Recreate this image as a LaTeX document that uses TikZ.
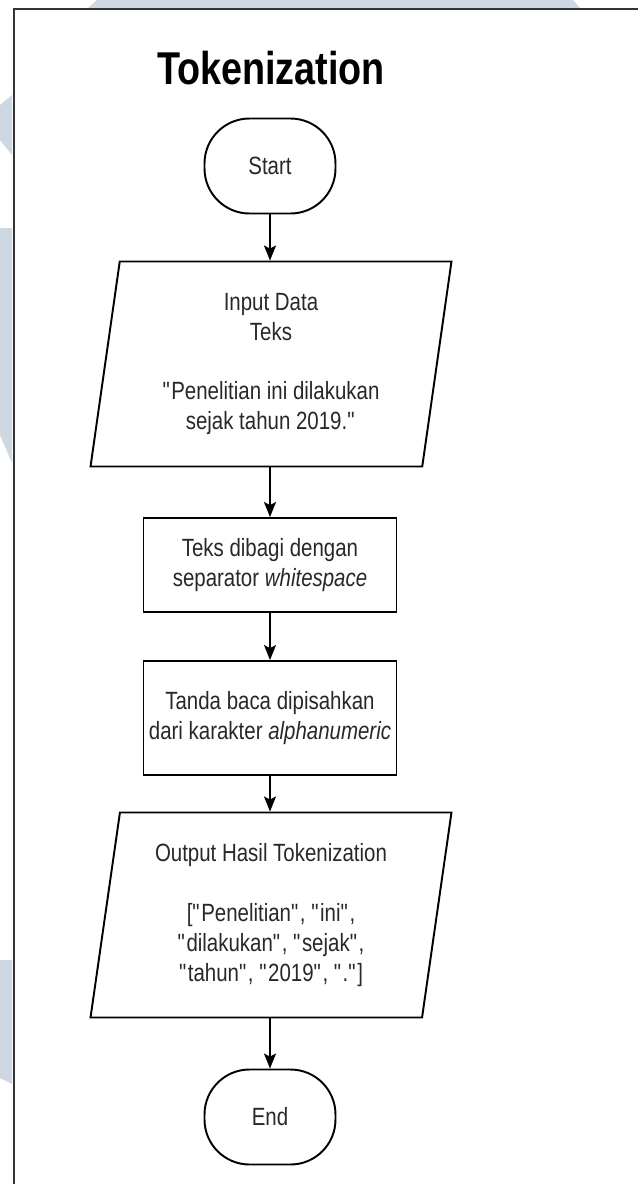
\documentclass[tikz,border=0pt]{standalone}
\usepackage{fontspec}
\setmainfont{Liberation Sans}[FakeStretch=0.82]
\usetikzlibrary{shapes.geometric,arrows.meta}
\definecolor{wmblue}{RGB}{205,216,227}
\definecolor{txtgray}{RGB}{40,40,40}
\newcommand{\dq}{\textquotedbl}

\begin{document}
\begin{tikzpicture}[x=0.02cm,y=-0.02cm,
  every node/.style={font=\fontsize{14.2pt}{17.07pt}\selectfont, text=txtgray, align=center},
  terminal/.style={draw, line width=1.1pt, rounded corners=0.9cm,
    minimum width=2.62cm, minimum height=1.9cm, inner sep=0pt},
  iobox/.style={draw, line width=1.1pt, trapezium, trapezium left angle=78.4,
    trapezium right angle=101.6, trapezium stretches body,
    minimum width=7.22cm, minimum height=4.1cm, inner sep=0pt},
  procbox/.style={draw, line width=1.1pt, minimum width=5.06cm, inner sep=0pt},
  flow/.style={line width=0.85pt, -{Stealth[length=0.3cm,width=0.24cm,inset=0.06cm]}}]
\useasboundingbox (0,0) rectangle (637,1184);

% watermark fragments
\fill[wmblue] (97,0) -- (573,0) -- (580,8) -- (88,8) -- cycle;
\fill[wmblue] (0,105) -- (12,95) -- (12,155) -- (0,140) -- cycle;
\fill[wmblue] (0,228) -- (12,228) -- (12,463) -- (0,435) -- cycle;
\fill[wmblue] (0,960) -- (12,960) -- (12,1084) -- (0,1078) -- cycle;

% frame
\draw[line width=1.7pt, black!80] (14,1190) -- (14,9) -- (645,9);

\node[text=black, font=\fontsize{26.2pt}{30pt}\selectfont\bfseries] (title) at (271,68) {Tokenization};

\node[terminal] (start) at (270,166) {Start};
\node[iobox] (input) at (271,364) {Input Data\\Teks\\[17.07pt]\dq Penelitian ini dilakukan\\sejak tahun 2019.\dq};
\node[procbox, minimum height=1.88cm] (split) at (270,565) {Teks dibagi dengan\\separator \textit{whitespace}};
\node[procbox, minimum height=2.28cm] (punct) at (270,718) {Tanda baca dipisahkan\\dari karakter \textit{alphanumeric}};
\node[iobox] (output) at (271,915) {Output Hasil Tokenization\\[17.07pt][\dq Penelitian\dq, \dq ini\dq,\\\dq dilakukan\dq, \dq sejak\dq,\\\dq tahun\dq, \dq 2019\dq, \dq.\dq]};
\node[terminal] (end) at (270,1117) {End};

\draw[flow] (start) -- (start |- input.north);
\draw[flow] (input.south -| split) -- (split);
\draw[flow] (split) -- (punct);
\draw[flow] (punct) -- (punct |- output.north);
\draw[flow] (output.south -| end) -- (end);
\end{tikzpicture}
\end{document}
